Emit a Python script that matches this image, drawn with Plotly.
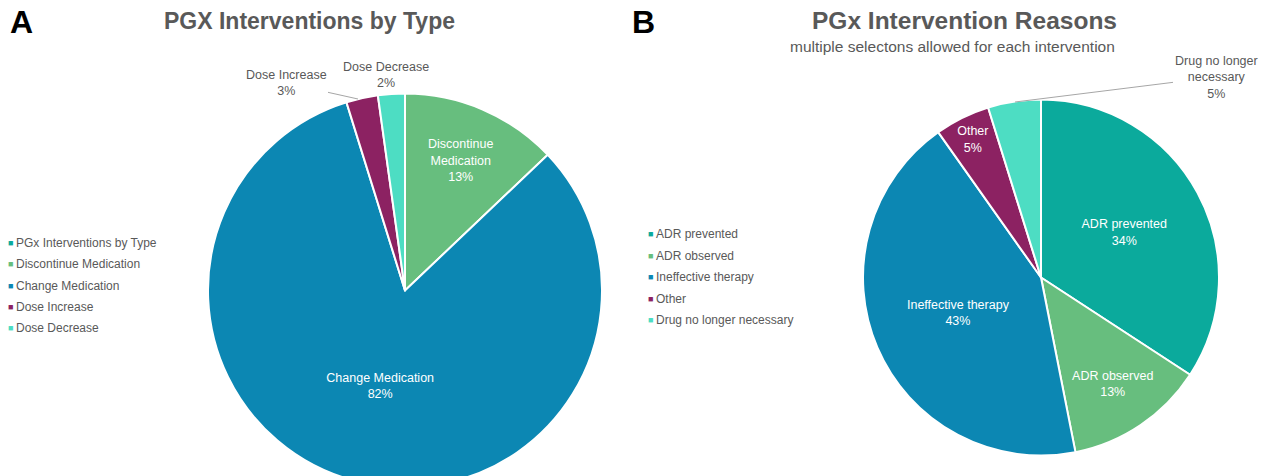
import plotly.graph_objects as go

# Panel A data
a_labels = ["Discontinue Medication", "Change Medication", "Dose Increase", "Dose Decrease"]
a_text = ["Discontinue<br>Medication", "Change Medication", "Dose Increase", "Dose Decrease"]
a_values = [12.9, 82.3, 2.6, 2.2]
a_legend = ["PGx Interventions by Type", "Discontinue Medication", "Change Medication", "Dose Increase", "Dose Decrease"]

# Panel B data
b_labels = ["ADR prevented", "ADR observed", "Ineffective therapy", "Other", "Drug no longer necessary"]
b_text = ["ADR prevented", "ADR observed", "Ineffective therapy", "Other", "Drug no longer<br>necessary"]
b_values = [34.2, 12.7, 43.3, 5.0, 4.8]

TEAL = "#0BAA9C"
GREEN = "#67BE7E"
BLUE = "#0C87B3"
PURPLE = "#8C2262"
AQUA = "#4DDDC3"
a_colors = [GREEN, BLUE, PURPLE, AQUA]
a_legend_colors = [TEAL, GREEN, BLUE, PURPLE, AQUA]
b_colors = [TEAL, GREEN, BLUE, PURPLE, AQUA]

FONT = "Liberation Sans, Arial, sans-serif"
GRAY = "#595959"
LEADER = "#A6A6A6"

W, H = 1270, 490  # page is cut at 476 by the window, like the reference


def fx(px):
    return px / W


def fy(py):
    return 1 - py / H


def pct(values, i):
    return f"{round(100 * values[i] / sum(values))}%"


def slice_pos(n, outside):
    return ["none" if i in outside else "inside" for i in range(n)]


a_out = [2, 3]
b_out = [4]

fig = go.Figure()

fig.add_trace(go.Pie(
    labels=a_labels, values=a_values, text=a_text,
    sort=False, direction="clockwise", rotation=0,
    marker=dict(colors=a_colors, line=dict(color="white", width=2)),
    texttemplate="%{text}<br>%{percent:.0%}",
    textposition=slice_pos(len(a_values), a_out),
    insidetextorientation="horizontal",
    insidetextfont=dict(color="white", size=12.5, family=FONT),
    domain=dict(x=[fx(208), fx(602)], y=[fy(488), fy(93)]),
    showlegend=False, hoverinfo="label+percent",
))

fig.add_trace(go.Pie(
    labels=b_labels, values=b_values, text=b_text,
    sort=False, direction="clockwise", rotation=0,
    marker=dict(colors=b_colors, line=dict(color="white", width=2)),
    texttemplate="%{text}<br>%{percent:.0%}",
    textposition=slice_pos(len(b_values), b_out),
    insidetextorientation="horizontal",
    insidetextfont=dict(color="white", size=12.5, family=FONT),
    domain=dict(x=[fx(863), fx(1219)], y=[fy(456), fy(99)]),
    showlegend=False, hoverinfo="label+percent",
))

out_font = dict(size=12.5, color=GRAY, family=FONT)
annotations = [
    dict(text="<b>A</b>", x=fx(8), y=fy(22), xref="paper", yref="paper",
         xanchor="left", yanchor="middle", showarrow=False,
         font=dict(size=32, color="black", family=FONT)),
    dict(text="<b>B</b>", x=fx(630), y=fy(22), xref="paper", yref="paper",
         xanchor="left", yanchor="middle", showarrow=False,
         font=dict(size=32, color="black", family=FONT)),
    dict(text="<b>PGX Interventions by Type</b>", x=fx(309), y=fy(21), xref="paper", yref="paper",
         xanchor="center", yanchor="middle", showarrow=False,
         font=dict(size=23, color=GRAY, family=FONT)),
    dict(text="<b>PGx Intervention Reasons</b>", x=fx(964), y=fy(21), xref="paper", yref="paper",
         xanchor="center", yanchor="middle", showarrow=False,
         font=dict(size=24.5, color=GRAY, family=FONT)),
    dict(text="multiple selectons allowed for each intervention", x=fx(952), y=fy(46),
         xref="paper", yref="paper", xanchor="center", yanchor="middle", showarrow=False,
         font=dict(size=15.5, color=GRAY, family=FONT)),
    # outside slice labels
    dict(text=f"{a_text[2]}<br>{pct(a_values, 2)}", x=fx(358), y=fy(99),
         xref="paper", yref="paper", showarrow=True, arrowhead=0, arrowwidth=1,
         arrowcolor=LEADER, ax=-72, ay=-16, font=out_font),
    dict(text=f"{a_text[3]}<br>{pct(a_values, 3)}", x=fx(386), y=fy(75),
         xref="paper", yref="paper", xanchor="center", yanchor="middle",
         showarrow=False, font=out_font),
    dict(text=f"{b_text[4]}<br>{pct(b_values, 4)}", x=fx(1015), y=fy(102),
         xref="paper", yref="paper", showarrow=True, arrowhead=0, arrowwidth=1,
         arrowcolor=LEADER, ax=201, ay=-25, font=out_font),
]


def add_legend(names, colors, x0, y0, step):
    for i, (name, col) in enumerate(zip(names, colors)):
        y = fy(y0 + i * step)
        annotations.append(dict(text="■", x=fx(x0), y=y, xref="paper", yref="paper",
                                xanchor="center", yanchor="middle", showarrow=False,
                                font=dict(size=9, color=col, family=FONT)))
        annotations.append(dict(text=name, x=fx(x0 + 4), y=y, xref="paper", yref="paper",
                                xanchor="left", yanchor="middle", showarrow=False,
                                font=dict(size=12, color=GRAY, family=FONT)))


add_legend(a_legend, a_legend_colors, 10, 243, 21.3)
add_legend(b_labels, b_colors, 650, 234, 21.5)

fig.update_layout(
    width=W, height=H,
    margin=dict(l=0, r=0, t=0, b=0),
    paper_bgcolor="white", plot_bgcolor="white",
    font=dict(family=FONT, color=GRAY, size=12),
    showlegend=False,
    annotations=annotations,
)

fig.write_html(
    "out.html",
    config={"displayModeBar": False},
    post_script="document.body.style.margin='0';document.body.style.padding='0';"
                "document.body.style.overflow='hidden';"
                "document.documentElement.style.overflow='hidden';",
)
